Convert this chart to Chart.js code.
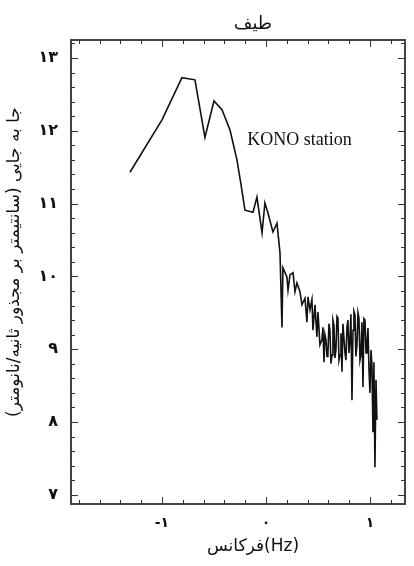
<!DOCTYPE html>
<html>
<head>
<meta charset="utf-8">
<script src="https://cdn.jsdelivr.net/npm/chart.js@4.4.0/dist/chart.umd.min.js"></script>
<style>
  html, body { margin: 0; padding: 0; background: #fff; }
  #wrap { width: 414px; height: 566px; position: relative; }
</style>
</head>
<body>
<div id="wrap"><canvas id="c" width="414" height="566"></canvas></div>
<script>
// ---- data ----
const chartTitle = 'طیف';
const yAxisTitle = 'جا به جایی (سانتیمتر بر مجذور ثانیه/نانومتر)';
const xAxisTitle = 'فرکانس(Hz)';
const annotationText = 'KONO station';
const annotationPos = [-0.18, 11.87];

// log10 frequency
const freqValues = [
  -1.308, -1.0, -0.808, -0.683, -0.587, -0.5, -0.423, -0.346, -0.279, -0.24,
  -0.202, -0.125, -0.087, -0.038, -0.01, 0.019, 0.067, 0.106, 0.135, 0.154,
  0.163, 0.202, 0.212, 0.231, 0.26, 0.279, 0.298, 0.327, 0.346, 0.375,
  0.394, 0.404, 0.423, 0.442, 0.452, 0.471, 0.490, 0.5, 0.519, 0.538,
  0.548, 0.558, 0.567, 0.577, 0.587, 0.596, 0.606, 0.615, 0.625, 0.635,
  0.644, 0.654, 0.663, 0.673, 0.683, 0.692, 0.702, 0.712, 0.721, 0.731,
  0.740, 0.75, 0.760, 0.769, 0.779, 0.788, 0.798, 0.808, 0.817, 0.827,
  0.837, 0.846, 0.856, 0.865, 0.875, 0.885, 0.894, 0.904, 0.913, 0.923,
  0.933, 0.942, 0.952, 0.962, 0.971, 0.981, 0.990, 1.0, 1.01, 1.019,
  1.029, 1.038, 1.048, 1.058, 1.067
];
// displacement spectrum amplitude
const ampValues = [
  11.43, 12.15, 12.73, 12.70, 11.91, 12.41, 12.29, 12.01, 11.60, 11.26,
  10.91, 10.88, 11.09, 10.60, 11.01, 10.87, 10.61, 10.73, 10.32, 9.30,
  10.12, 9.99, 9.81, 10.02, 10.05, 9.79, 9.91, 9.79, 9.61, 9.70,
  9.37, 9.72, 9.54, 9.68, 9.26, 9.61, 9.17, 9.51, 9.06, 9.13,
  9.30, 8.82, 9.20, 9.13, 8.90, 8.96, 9.35, 9.26, 8.80, 8.92,
  9.40, 9.33, 8.88, 8.99, 9.45, 9.43, 8.85, 8.92, 9.22, 8.69,
  9.35, 9.15, 8.95, 8.85, 9.30, 9.40, 8.95, 9.13, 9.48, 8.30,
  9.26, 9.52, 9.47, 8.90, 9.06, 9.50, 9.43, 8.85, 8.92, 9.37,
  8.48, 9.42, 9.40, 8.95, 9.06, 9.29, 8.75, 8.40, 8.99, 8.78,
  7.86, 8.82, 7.38, 8.58, 8.03
];

const yTickValues = [7, 8, 9, 10, 11, 12, 13];
const yTickLabels = ['۷', '۸', '۹', '۱۰', '۱۱', '۱۲', '۱۳'];
const xTickValues = [-1, 0, 1];
const xTickLabels = ['-۱', '۰', '۱'];

const points = freqValues.map((x, i) => ({ x: x, y: ampValues[i] }));

const AXIS_X_MIN = -1.875, AXIS_X_MAX = 1.337;
const AXIS_Y_MIN = 6.874, AXIS_Y_MAX = 13.247;

const framePlugin = {
  id: 'frame',
  afterDraw(chart) {
    const ctx = chart.ctx;
    const a = chart.chartArea;
    const xs = chart.scales.x, ys = chart.scales.y;
    ctx.save();
    ctx.strokeStyle = '#444';
    ctx.lineWidth = 2;
    ctx.strokeRect(a.left, a.top, a.right - a.left, a.bottom - a.top);
    ctx.lineWidth = 1;
    ctx.strokeStyle = '#333';
    // y minor/major ticks on left and right (inward)
    for (let k = 35; k <= 66; k++) {
      const v = k / 5;
      if (v < AXIS_Y_MIN || v > AXIS_Y_MAX) continue;
      const py = Math.round(ys.getPixelForValue(v)) + 0.5;
      const major = (k % 5 === 0);
      const len = major ? 7 : 4;
      ctx.beginPath();
      ctx.moveTo(a.left, py); ctx.lineTo(a.left + len, py);
      ctx.moveTo(a.right, py); ctx.lineTo(a.right - len, py);
      ctx.stroke();
    }
    // x ticks on bottom and top (inward)
    for (let k = -9; k <= 6; k++) {
      const v = k / 5;
      if (v < AXIS_X_MIN || v > AXIS_X_MAX) continue;
      const px = Math.round(xs.getPixelForValue(v)) + 0.5;
      const major = (k % 5 === 0);
      const len = major ? 7 : 4;
      ctx.beginPath();
      ctx.moveTo(px, a.bottom); ctx.lineTo(px, a.bottom - len);
      ctx.moveTo(px, a.top); ctx.lineTo(px, a.top + len);
      ctx.stroke();
    }
    // annotation
    ctx.fillStyle = '#111';
    ctx.font = '18px "Liberation Serif", "Times New Roman", serif';
    ctx.textAlign = 'left';
    ctx.textBaseline = 'middle';
    ctx.fillText(annotationText, xs.getPixelForValue(annotationPos[0]), ys.getPixelForValue(annotationPos[1]));
    // title
    ctx.font = '18px "DejaVu Sans", sans-serif';
    ctx.textAlign = 'center';
    ctx.fillText(chartTitle, 253, 24);
    // x axis title
    ctx.font = '17px "DejaVu Sans", sans-serif';
    ctx.fillText(xAxisTitle, 253, 547);
    // y axis title
    ctx.translate(15, 262);
    ctx.rotate(-Math.PI / 2);
    ctx.font = '17px "DejaVu Sans", sans-serif';
    ctx.fillText(yAxisTitle, 0, 0);
    ctx.restore();
  }
};

new Chart(document.getElementById('c'), {
  type: 'scatter',
  data: {
    datasets: [{
      data: points,
      showLine: true,
      borderColor: '#111',
      borderWidth: 1.6,
      pointRadius: 0,
      tension: 0,
      fill: false
    }]
  },
  options: {
    responsive: false,
    animation: false,
    devicePixelRatio: 1,
    layout: { padding: { top: 40, right: 9, left: 0, bottom: 0 } },
    plugins: { legend: { display: false }, tooltip: { enabled: false }, title: { display: false } },
    scales: {
      x: {
        type: 'linear',
        min: AXIS_X_MIN, max: AXIS_X_MAX,
        grid: { display: false, drawTicks: false },
        border: { display: false },
        afterBuildTicks: (s) => { s.ticks = xTickValues.map(v => ({ value: v })); },
        afterFit: (s) => { s.height = 62; },
        ticks: {
          padding: 11,
          color: '#111',
          font: { family: '"DejaVu Sans", sans-serif', size: 14, weight: 'bold' },
          maxRotation: 0,
          autoSkip: false,
          callback: (v) => { const i = xTickValues.indexOf(v); return i >= 0 ? xTickLabels[i] : ''; }
        }
      },
      y: {
        type: 'linear',
        min: AXIS_Y_MIN, max: AXIS_Y_MAX,
        grid: { display: false, drawTicks: false },
        border: { display: false },
        afterBuildTicks: (s) => { s.ticks = yTickValues.map(v => ({ value: v })); },
        afterFit: (s) => { s.width = 71; },
        ticks: {
          padding: 13,
          color: '#111',
          font: { family: '"DejaVu Sans", sans-serif', size: 16, weight: 'bold' },
          autoSkip: false,
          callback: (v) => { const i = yTickValues.indexOf(v); return i >= 0 ? yTickLabels[i] : ''; }
        }
      }
    }
  },
  plugins: [framePlugin]
});
</script>
</body>
</html>
